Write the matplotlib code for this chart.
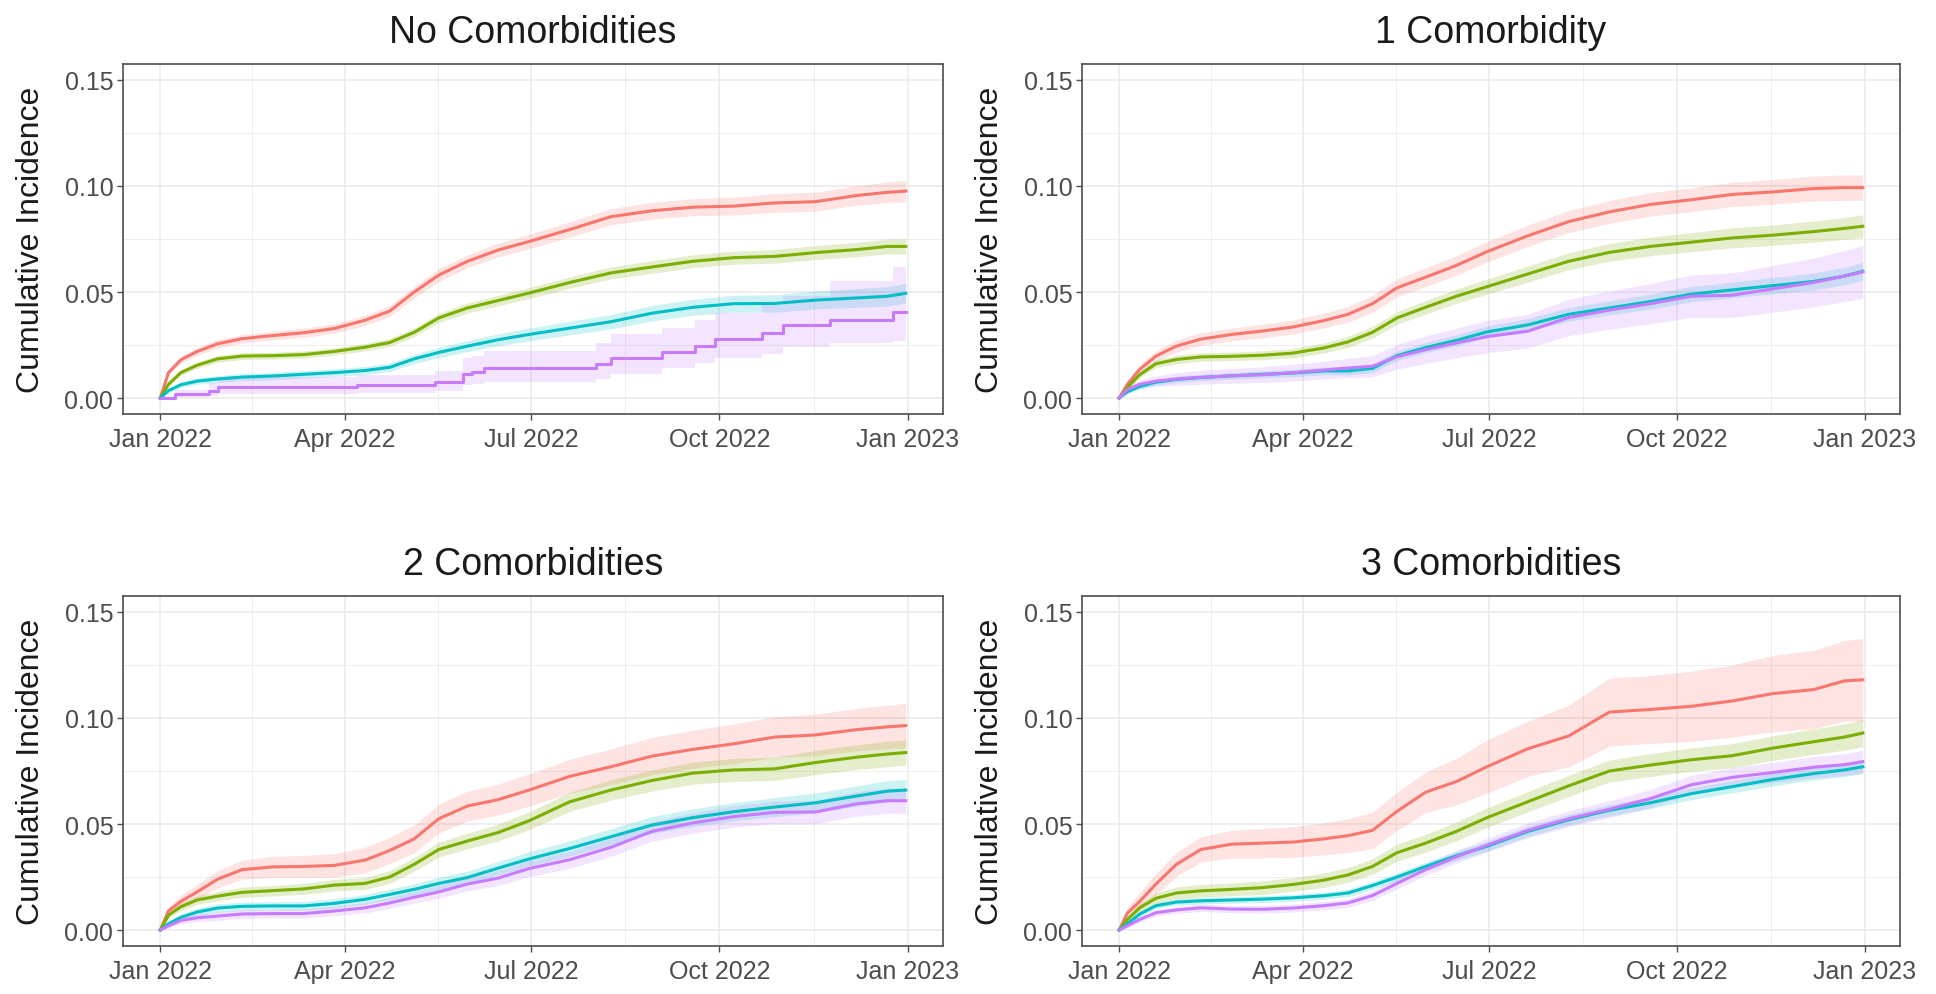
import numpy as np
import matplotlib.pyplot as plt
import matplotlib.dates as mdates

plt.rcParams['font.family'] = ['Liberation Sans', 'DejaVu Sans']

days = [0, 4, 10, 18, 28, 40, 55, 70, 85, 100, 112, 124, 136, 150, 165, 180,
        200, 220, 240, 260, 280, 300, 320, 340, 355, 364]

titles = ['No Comorbidities', '1 Comorbidity', '2 Comorbidities', '3 Comorbidities']
colors = ['#F8766D', '#7CAE00', '#00BFC4', '#C77CFF']

# --- No comorbidities
c0_red = [0, 0.012, 0.018, 0.022, 0.0256, 0.028, 0.0295, 0.0308, 0.0328, 0.0367, 0.041, 0.050, 0.058,
          0.0645, 0.0698, 0.0738, 0.0795, 0.0855, 0.0883, 0.090, 0.0905, 0.092, 0.0926, 0.0955, 0.097, 0.0976]
c0_red_hw = [0, 0.001, 0.0015, 0.0018, 0.002, 0.002, 0.002, 0.0022, 0.0022, 0.0024, 0.0025, 0.0027, 0.003,
             0.003, 0.0032, 0.0034, 0.0036, 0.0038, 0.004, 0.004, 0.0042, 0.0044, 0.0045, 0.0046, 0.0048, 0.005]
c0_green = [0, 0.0065, 0.012, 0.0155, 0.0185, 0.0198, 0.020, 0.0205, 0.022, 0.024, 0.0262, 0.031, 0.0378,
            0.0425, 0.046, 0.0495, 0.0545, 0.059, 0.0618, 0.0645, 0.0662, 0.0668, 0.0686, 0.070, 0.0715, 0.0715]
c0_green_hw = [0, 0.001, 0.0013, 0.0015, 0.0016, 0.0016, 0.0016, 0.0017, 0.0017, 0.0018, 0.0019, 0.002, 0.0022,
               0.0024, 0.0025, 0.0026, 0.0027, 0.0028, 0.003, 0.003, 0.0031, 0.0032, 0.0033, 0.0034, 0.0035, 0.0036]
c0_cyan = [0, 0.0035, 0.0063, 0.008, 0.009, 0.0099, 0.0104, 0.0112, 0.012, 0.013, 0.0145, 0.0185, 0.0215,
           0.0245, 0.0275, 0.030, 0.033, 0.036, 0.040, 0.0428, 0.0445, 0.0446, 0.0462, 0.0472, 0.048, 0.0494]
c0_cyan_hw = [0, 0.001, 0.0013, 0.0015, 0.0016, 0.0017, 0.0017, 0.0018, 0.0018, 0.0019, 0.002, 0.0022, 0.0024,
              0.0026, 0.0028, 0.003, 0.0032, 0.0034, 0.0036, 0.0038, 0.004, 0.0041, 0.0042, 0.0044, 0.0045, 0.0047]
# purple group here is a visible step function, read at its own jump days
c0_purple_days = [0, 7, 24, 28, 96, 134, 148, 152, 158, 213, 220, 245, 261, 271, 294, 304, 327, 358, 364]
c0_purple = [0, 0.0019, 0.0035, 0.0054, 0.0062, 0.0078, 0.0114, 0.0122, 0.014, 0.0161, 0.019, 0.0217,
             0.0245, 0.028, 0.0308, 0.0343, 0.0367, 0.0407, 0.0407]
c0_purple_lo = [0, 0.0005, 0.001, 0.002, 0.0025, 0.0035, 0.006, 0.0065, 0.0075, 0.009, 0.0115, 0.014,
                0.0165, 0.019, 0.021, 0.024, 0.026, 0.027, 0.027]
c0_purple_hi = [0, 0.004, 0.007, 0.010, 0.011, 0.013, 0.019, 0.020, 0.022, 0.026, 0.030, 0.033,
                0.037, 0.040, 0.044, 0.048, 0.055, 0.062, 0.063]

# --- 1 comorbidity
c1_red = [0, 0.0065, 0.0135, 0.0198, 0.0245, 0.0278, 0.030, 0.0316, 0.0335, 0.0365, 0.0395, 0.0445, 0.052,
          0.057, 0.0625, 0.069, 0.0765, 0.0832, 0.0878, 0.0913, 0.0935, 0.096, 0.0972, 0.0988, 0.0992, 0.0992]
c1_red_hw = [0, 0.0015, 0.002, 0.0025, 0.0028, 0.003, 0.003, 0.0032, 0.0033, 0.0035, 0.0037, 0.004, 0.0042,
             0.0044, 0.0046, 0.0048, 0.005, 0.0052, 0.0054, 0.0055, 0.0056, 0.0057, 0.0058, 0.0059, 0.006, 0.006]
c1_green = [0, 0.005, 0.011, 0.0162, 0.0182, 0.0194, 0.0197, 0.0202, 0.0212, 0.0236, 0.0265, 0.031, 0.0378,
            0.0428, 0.048, 0.0525, 0.0585, 0.0645, 0.0687, 0.0715, 0.0735, 0.0755, 0.0768, 0.0785, 0.080, 0.081]
c1_green_hw = [0, 0.001, 0.0015, 0.0018, 0.002, 0.002, 0.002, 0.0021, 0.0022, 0.0024, 0.0026, 0.0028, 0.003,
               0.0032, 0.0034, 0.0036, 0.0038, 0.004, 0.0042, 0.0044, 0.0045, 0.0047, 0.0048, 0.005, 0.0052, 0.0054]
c1_cyan = [0, 0.003, 0.0055, 0.0075, 0.0088, 0.0097, 0.0105, 0.0112, 0.0118, 0.0128, 0.0128, 0.014, 0.020,
           0.0238, 0.0272, 0.0312, 0.0345, 0.0395, 0.0425, 0.0455, 0.049, 0.051, 0.053, 0.055, 0.0575, 0.0598]
c1_cyan_hw = [0, 0.001, 0.0012, 0.0014, 0.0015, 0.0015, 0.0016, 0.0016, 0.0017, 0.0018, 0.0019, 0.002, 0.0022,
              0.0024, 0.0026, 0.0028, 0.003, 0.0032, 0.0033, 0.0035, 0.0036, 0.0037, 0.0038, 0.004, 0.0041, 0.0042]
c1_purple = [0, 0.004, 0.0065, 0.008, 0.009, 0.0098, 0.0105, 0.011, 0.012, 0.0132, 0.0142, 0.015, 0.0195,
             0.0228, 0.026, 0.029, 0.0315, 0.038, 0.0415, 0.0445, 0.048, 0.0485, 0.0515, 0.0545, 0.0575, 0.0595]
c1_purple_hw = [0, 0.0015, 0.002, 0.0025, 0.003, 0.0033, 0.0035, 0.0037, 0.004, 0.0042, 0.0045, 0.005, 0.0058,
                0.0065, 0.007, 0.0076, 0.008, 0.0086, 0.009, 0.0095, 0.010, 0.0105, 0.011, 0.0115, 0.012, 0.0125]

# --- 2 comorbidities
c2_red = [0, 0.009, 0.0135, 0.018, 0.024, 0.0285, 0.0298, 0.030, 0.0305, 0.033, 0.0375, 0.043, 0.0525,
          0.0585, 0.0615, 0.066, 0.0725, 0.077, 0.082, 0.0852, 0.0878, 0.091, 0.092, 0.0945, 0.0958, 0.0964]
c2_red_hw = [0, 0.002, 0.003, 0.0035, 0.004, 0.0045, 0.005, 0.0052, 0.0055, 0.006, 0.0062, 0.0065, 0.0068,
             0.007, 0.0073, 0.0076, 0.008, 0.0084, 0.0088, 0.009, 0.0093, 0.0096, 0.0098, 0.010, 0.0103, 0.0105]
c2_green = [0, 0.007, 0.011, 0.0142, 0.016, 0.0178, 0.0186, 0.0194, 0.0212, 0.022, 0.025, 0.031, 0.038,
            0.042, 0.046, 0.0515, 0.0605, 0.066, 0.0705, 0.074, 0.0755, 0.076, 0.079, 0.0815, 0.083, 0.0837]
c2_green_hw = [0, 0.0012, 0.0018, 0.002, 0.0022, 0.0024, 0.0025, 0.0026, 0.0027, 0.0028, 0.003, 0.0032, 0.0035,
               0.0037, 0.004, 0.0042, 0.0045, 0.0048, 0.005, 0.0052, 0.0054, 0.0055, 0.0057, 0.0058, 0.006, 0.006]
c2_cyan = [0, 0.003, 0.006, 0.0085, 0.0104, 0.0112, 0.0114, 0.0114, 0.0126, 0.0145, 0.0168, 0.0192, 0.022,
           0.0248, 0.0292, 0.0335, 0.0385, 0.044, 0.0495, 0.053, 0.0558, 0.058, 0.060, 0.0632, 0.0655, 0.066]
c2_cyan_hw = [0, 0.001, 0.0015, 0.0018, 0.002, 0.002, 0.002, 0.0021, 0.0022, 0.0023, 0.0025, 0.0027, 0.0029,
              0.003, 0.0032, 0.0034, 0.0036, 0.0038, 0.004, 0.0042, 0.0043, 0.0045, 0.0046, 0.0048, 0.005, 0.005]
c2_purple = [0, 0.002, 0.0045, 0.0058, 0.0066, 0.0076, 0.0078, 0.0078, 0.009, 0.0105, 0.0128, 0.0155, 0.018,
             0.0217, 0.0245, 0.029, 0.0332, 0.039, 0.0465, 0.0505, 0.0535, 0.0555, 0.0557, 0.0595, 0.061, 0.061]
c2_purple_hw = [0, 0.001, 0.0015, 0.0018, 0.002, 0.002, 0.002, 0.0021, 0.0022, 0.0024, 0.0026, 0.0028, 0.003,
                0.0032, 0.0035, 0.0038, 0.004, 0.0043, 0.0046, 0.0048, 0.005, 0.0053, 0.0055, 0.0058, 0.006, 0.006]

# --- 3 comorbidities
c3_red = [0, 0.008, 0.0135, 0.0217, 0.031, 0.038, 0.0405, 0.041, 0.0415, 0.043, 0.0445, 0.047, 0.056,
          0.065, 0.070, 0.077, 0.0855, 0.0915, 0.1028, 0.104, 0.1055, 0.108, 0.1115, 0.1134, 0.1175, 0.118]
c3_red_hw = [0, 0.003, 0.004, 0.005, 0.0055, 0.006, 0.0065, 0.007, 0.0072, 0.0075, 0.008, 0.0085, 0.009,
             0.0095, 0.011, 0.0125, 0.013, 0.0145, 0.016, 0.016, 0.0165, 0.017, 0.018, 0.0185, 0.019, 0.0195]
c3_green = [0, 0.005, 0.0105, 0.015, 0.0175, 0.0185, 0.0192, 0.020, 0.0215, 0.0235, 0.026, 0.030, 0.0365,
            0.041, 0.0465, 0.053, 0.0605, 0.068, 0.075, 0.0778, 0.0803, 0.0822, 0.0858, 0.0888, 0.091, 0.0929]
c3_green_hw = [0, 0.0015, 0.002, 0.0025, 0.0028, 0.003, 0.003, 0.0032, 0.0033, 0.0034, 0.0035, 0.0037, 0.004,
               0.0042, 0.0044, 0.0046, 0.0048, 0.005, 0.0052, 0.0054, 0.0055, 0.0057, 0.0058, 0.006, 0.0062, 0.0064]
c3_cyan = [0, 0.003, 0.0075, 0.0115, 0.0132, 0.0138, 0.0142, 0.0146, 0.0152, 0.0162, 0.0175, 0.021, 0.025,
           0.030, 0.035, 0.0395, 0.0465, 0.052, 0.0565, 0.060, 0.0643, 0.0676, 0.071, 0.0738, 0.0755, 0.077]
c3_cyan_hw = [0, 0.001, 0.0012, 0.0014, 0.0015, 0.0015, 0.0015, 0.0016, 0.0016, 0.0017, 0.0018, 0.0019, 0.002,
              0.0021, 0.0022, 0.0023, 0.0024, 0.0025, 0.0026, 0.0027, 0.0028, 0.0029, 0.003, 0.003, 0.0031, 0.0032]
c3_purple = [0, 0.002, 0.005, 0.0082, 0.0095, 0.0105, 0.0099, 0.0098, 0.0104, 0.0115, 0.0128, 0.0163, 0.022,
             0.0285, 0.0345, 0.040, 0.047, 0.0525, 0.057, 0.062, 0.0685, 0.072, 0.0743, 0.0768, 0.078, 0.0794]
c3_purple_hw = [0, 0.001, 0.0013, 0.0015, 0.0016, 0.0017, 0.0017, 0.0018, 0.0019, 0.002, 0.0021, 0.0023, 0.0025,
                0.0027, 0.003, 0.0032, 0.0035, 0.0037, 0.004, 0.0042, 0.0044, 0.0046, 0.0048, 0.005, 0.0052, 0.0054]

start = np.datetime64('2022-01-01')
x = start + np.array(days, dtype='timedelta64[D]')

panels = [
    [(c0_red, c0_red_hw), (c0_green, c0_green_hw), (c0_cyan, c0_cyan_hw), None],
    [(c1_red, c1_red_hw), (c1_green, c1_green_hw), (c1_cyan, c1_cyan_hw), (c1_purple, c1_purple_hw)],
    [(c2_red, c2_red_hw), (c2_green, c2_green_hw), (c2_cyan, c2_cyan_hw), (c2_purple, c2_purple_hw)],
    [(c3_red, c3_red_hw), (c3_green, c3_green_hw), (c3_cyan, c3_cyan_hw), (c3_purple, c3_purple_hw)],
]

W, H = 1936, 995
fig = plt.figure(figsize=(W / 100, H / 100), dpi=100)
fig.patch.set_facecolor('white')

# axes boxes in pixels: left, top, right, bottom
boxes = [(123, 65, 943, 415), (1082, 65, 1900, 415),
         (123, 597, 943, 947), (1082, 597, 1900, 947)]

major_dates = np.array(['2022-01-01', '2022-04-01', '2022-07-01', '2022-10-01', '2023-01-01'],
                       dtype='datetime64[D]')
major_labels = ['Jan 2022', 'Apr 2022', 'Jul 2022', 'Oct 2022', 'Jan 2023']
x0 = mdates.date2num(start)
maj = mdates.date2num(major_dates)
minor_x = (maj[:-1] + maj[1:]) / 2

for i, (l, t, r, b) in enumerate(boxes):
    ax = fig.add_axes([l / W, 1 - b / H, (r - l) / W, (b - t) / H])

    for j, series in enumerate(panels[i]):
        if series is None:
            px = start + np.array(c0_purple_days, dtype='timedelta64[D]')
            ax.fill_between(px, c0_purple_lo, c0_purple_hi, step='post',
                            color=colors[j], alpha=0.2, lw=0)
            ax.step(px, c0_purple, where='post', color=colors[j], lw=2.2)
            continue
        est, hw = np.array(series[0]), np.array(series[1])
        ax.fill_between(x, est - hw, est + hw, color=colors[j], alpha=0.2, lw=0)
        ax.plot(x, est, color=colors[j], lw=2.2)

    ax.set_xlim(x0 - 18.2, x0 + 364 + 18.2)
    ax.set_ylim(-0.0075, 0.1575)

    ax.set_xticks(maj)
    ax.set_xticklabels(major_labels)
    ax.set_xticks(minor_x, minor=True)
    ax.set_yticks([0, 0.05, 0.10, 0.15])
    ax.set_yticklabels(['0.00', '0.05', '0.10', '0.15'])
    ax.set_yticks([0.025, 0.075, 0.125], minor=True)

    ax.set_axisbelow(True)
    ax.grid(which='major', color='#EBEBEB', lw=1.2)
    ax.grid(which='minor', color='#EBEBEB', lw=0.6)

    ax.tick_params(which='major', length=4.5, width=1, color='#4D4D4D',
                   labelcolor='#4D4D4D', labelsize=18)
    ax.tick_params(axis='x', which='major', pad=5)
    ax.tick_params(axis='y', which='major', pad=2.5)
    ax.tick_params(which='minor', length=0)
    for s in ax.spines.values():
        s.set_color('#4D4D4D')
        s.set_linewidth(1.2)

    ax.set_ylabel('Cumulative Incidence', fontsize=23, color='#1A1A1A')
    ax.yaxis.set_label_coords(-0.094, 0.5)
    ax.set_title(titles[i], fontsize=27, color='#1A1A1A', pad=16)

fig.savefig('out.png', dpi=100, facecolor='white')
